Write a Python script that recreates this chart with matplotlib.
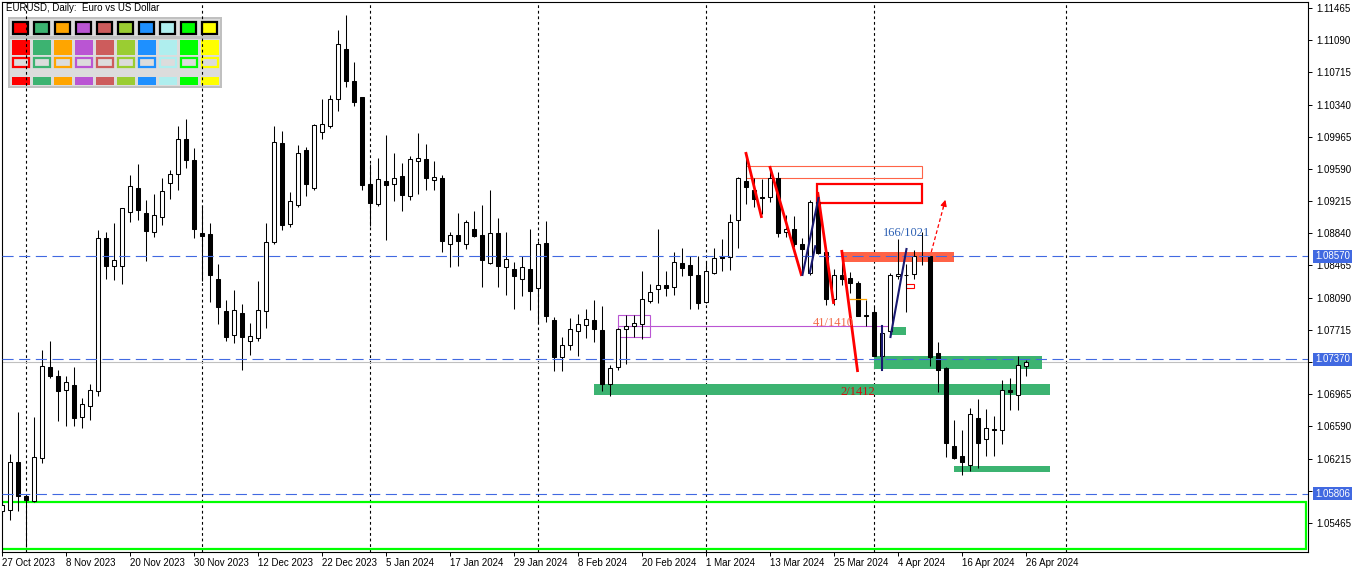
import numpy as np
import matplotlib.pyplot as plt
from matplotlib.patches import Rectangle

plt.rcParams['font.family'] = ['Liberation Sans', 'DejaVu Sans']

# EURUSD daily candles, 27 Oct 2023 .. 26 Apr 2024 (bar index 0..128)
opens = [1.0560, 1.0562, 1.0617, 1.0578, 1.0572, 1.0622, 1.0728, 1.0718, 1.0701, 1.0707,
         1.0670, 1.0683, 1.0700, 1.0879, 1.0846, 1.0846, 1.0909, 1.0937, 1.0908, 1.0886,
         1.0903, 1.0943, 1.0953, 1.0994, 1.0969, 1.0884, 1.0883, 1.0831, 1.0793, 1.0765,
         1.0791, 1.0759, 1.0762, 1.0793, 1.0874, 1.0989, 1.0895, 1.0917, 1.0981, 1.0937,
         1.1002, 1.1009, 1.1040, 1.1099, 1.1062, 1.1043, 1.0941, 1.0918, 1.0945, 1.0941,
         1.0951, 1.0927, 1.0968, 1.0971, 1.0946, 1.0948, 1.0871, 1.0882, 1.0871, 1.0889,
         1.0882, 1.0849, 1.0884, 1.0845, 1.0843, 1.0831, 1.0842, 1.0820, 1.0873, 1.0783,
         1.0740, 1.0754, 1.0770, 1.0777, 1.0783, 1.0771, 1.0708, 1.0728, 1.0772, 1.0776,
         1.0778, 1.0805, 1.0819, 1.0824, 1.0821, 1.0849, 1.0847, 1.0836, 1.0804, 1.0838,
         1.0857, 1.0856, 1.0899, 1.0945, 1.0935, 1.0926, 1.0926, 1.0948, 1.0885, 1.0889,
         1.0872, 1.0838, 1.0920, 1.0862, 1.0808, 1.0836, 1.0832, 1.0826, 1.0789, 1.0792,
         1.0741, 1.0770, 1.0834, 1.0836, 1.0837, 1.0857, 1.0857, 1.0744, 1.0727, 1.0636,
         1.0625, 1.0614, 1.0669, 1.0644, 1.0656, 1.0655, 1.0702, 1.0696, 1.0729]
highs = [1.0572, 1.0627, 1.0676, 1.0580, 1.0670, 1.0748, 1.0758, 1.0725, 1.0718, 1.0728,
         1.0692, 1.0708, 1.0888, 1.0885, 1.0896, 1.0914, 1.0952, 1.0965, 1.0923, 1.0930,
         1.0949, 1.0958, 1.1009, 1.1017, 1.0983, 1.0916, 1.0896, 1.0848, 1.0806, 1.0818,
         1.0802, 1.0780, 1.0829, 1.0896, 1.1009, 1.1003, 1.0932, 1.0987, 1.0984, 1.1011,
         1.1040, 1.1045, 1.1121, 1.1138, 1.1084, 1.1043, 1.0965, 1.0972, 1.0999, 1.0978,
         1.0966, 1.0974, 1.1001, 1.0988, 1.0968, 1.0952, 1.0885, 1.0908, 1.0899, 1.0910,
         1.0917, 1.0934, 1.0902, 1.0886, 1.0851, 1.0858, 1.0889, 1.0875, 1.0898, 1.0787,
         1.0763, 1.0785, 1.0790, 1.0796, 1.0806, 1.0799, 1.0730, 1.0774, 1.0789, 1.0789,
         1.0840, 1.0825, 1.0889, 1.0840, 1.0862, 1.0867, 1.0857, 1.0857, 1.0852, 1.0867,
         1.0877, 1.0906, 1.0950, 1.0975, 1.0948, 1.0947, 1.0960, 1.0955, 1.0905, 1.0904,
         1.0879, 1.0923, 1.0926, 1.0862, 1.0843, 1.0851, 1.0839, 1.0828, 1.0806, 1.0798,
         1.0770, 1.0838, 1.0877, 1.0848, 1.0864, 1.0885, 1.0858, 1.0757, 1.0728, 1.0666,
         1.0655, 1.0680, 1.0691, 1.0679, 1.0671, 1.0713, 1.0715, 1.0741, 1.0736]
lows = [1.0555, 1.0550, 1.0560, 1.0518, 1.0571, 1.0616, 1.0716, 1.0665, 1.0660, 1.0660,
        1.0657, 1.0667, 1.0694, 1.0831, 1.0830, 1.0825, 1.0897, 1.0899, 1.0852, 1.0880,
        1.0894, 1.0924, 1.0934, 1.0960, 1.0879, 1.0829, 1.0804, 1.0778, 1.0759, 1.0756,
        1.0725, 1.0742, 1.0759, 1.0774, 1.0872, 1.0888, 1.0891, 1.0915, 1.0928, 1.0934,
        1.0994, 1.1007, 1.1027, 1.1054, 1.1032, 1.0934, 1.0892, 1.0916, 1.0876, 1.0922,
        1.0910, 1.0923, 1.0930, 1.0935, 1.0934, 1.0862, 1.0845, 1.0846, 1.0866, 1.0880,
        1.0822, 1.0848, 1.0822, 1.0812, 1.0796, 1.0811, 1.0795, 1.0780, 1.0781, 1.0724,
        1.0723, 1.0748, 1.0741, 1.0762, 1.0757, 1.0700, 1.0695, 1.0725, 1.0732, 1.0763,
        1.0761, 1.0803, 1.0803, 1.0811, 1.0812, 1.0834, 1.0796, 1.0796, 1.0803, 1.0837,
        1.0840, 1.0841, 1.0867, 1.0918, 1.0915, 1.0906, 1.0920, 1.0880, 1.0880, 1.0868,
        1.0837, 1.0836, 1.0860, 1.0801, 1.0801, 1.0824, 1.0814, 1.0788, 1.0776, 1.0741,
        1.0726, 1.0765, 1.0831, 1.0792, 1.0831, 1.0847, 1.0729, 1.0699, 1.0623, 1.0621,
        1.0602, 1.0607, 1.0611, 1.0624, 1.0624, 1.0639, 1.0678, 1.0678, 1.0718]
closes = [1.0567, 1.0617, 1.0578, 1.0573, 1.0623, 1.0729, 1.0718, 1.0700, 1.0711, 1.0669,
          1.0685, 1.0701, 1.0879, 1.0846, 1.0853, 1.0913, 1.0939, 1.0911, 1.0887, 1.0905,
          1.0933, 1.0953, 1.0994, 1.0969, 1.0889, 1.0881, 1.0836, 1.0798, 1.0763, 1.0795,
          1.0763, 1.0764, 1.0795, 1.0874, 1.0990, 1.0894, 1.0922, 1.0978, 1.0941, 1.1010,
          1.1011, 1.1040, 1.1105, 1.1061, 1.1037, 1.0940, 1.0919, 1.0947, 1.0940, 1.0949,
          1.0929, 1.0971, 1.0972, 1.0948, 1.0950, 1.0875, 1.0882, 1.0875, 1.0897, 1.0881,
          1.0853, 1.0884, 1.0846, 1.0854, 1.0834, 1.0845, 1.0817, 1.0871, 1.0788, 1.0740,
          1.0754, 1.0773, 1.0778, 1.0784, 1.0772, 1.0708, 1.0727, 1.0773, 1.0776, 1.0779,
          1.0807, 1.0816, 1.0824, 1.0820, 1.0850, 1.0844, 1.0836, 1.0803, 1.0840, 1.0855,
          1.0855, 1.0897, 1.0948, 1.0938, 1.0924, 1.0925, 1.0948, 1.0884, 1.0889, 1.0872,
          1.0866, 1.0920, 1.0861, 1.0808, 1.0836, 1.0831, 1.0826, 1.0788, 1.0788, 1.0741,
          1.0768, 1.0836, 1.0837, 1.0836, 1.0858, 1.0857, 1.0740, 1.0725, 1.0640, 1.0622,
          1.0618, 1.0673, 1.0640, 1.0657, 1.0655, 1.0702, 1.0699, 1.0730, 1.0734]

date_labels = ['27 Oct 2023', '8 Nov 2023', '20 Nov 2023', '30 Nov 2023', '12 Dec 2023',
               '22 Dec 2023', '5 Jan 2024', '17 Jan 2024', '29 Jan 2024', '8 Feb 2024',
               '20 Feb 2024', '1 Mar 2024', '13 Mar 2024', '25 Mar 2024', '4 Apr 2024',
               '16 Apr 2024', '26 Apr 2024']
month_starts = [3, 25, 46, 67, 88, 109, 133]

price_ticks = [1.05465, 1.05840, 1.06215, 1.06590, 1.06965, 1.07340, 1.07715, 1.08090,
               1.08465, 1.08840, 1.09215, 1.09590, 1.09965, 1.10340, 1.10715, 1.11090, 1.11465]
hidden_ticks = [1.05840, 1.07340]   # covered by the level labels
hlines = [1.08570, 1.07370, 1.05806]
bid = 1.0734

# drawn objects
zone_x0 = [73.9, 108.9, 111.2, 118.9]
zone_x1 = [130.9, 129.9, 112.9, 130.9]
zone_lo = [1.06956, 1.07259, 1.07655, 1.06059]
zone_hi = [1.07085, 1.07411, 1.07749, 1.06129]

red_seg_x = [(92.9, 94.9), (95.9, 99.9), (101.9, 103.9), (104.9, 106.9)]
red_seg_y = [(1.09787, 1.09019), (1.09624, 1.08343), (1.09321, 1.08017), (1.08646, 1.07224)]
navy_seg_x = [(100.0, 102.0), (100.9, 101.6), (110.0, 110.0), (111.0, 113.0)]
navy_seg_y = [(1.08355, 1.09252), (1.08380, 1.08690), (1.07760, 1.07250), (1.07632, 1.08657)]

palette = ['#FF0000', '#3CB371', '#FFA500', '#BA55D3', '#CD5C5C',
           '#9ACD32', '#1E90FF', '#AFEEEE', '#00FF00', '#FFFF00']

W, H = 1362, 576
fig = plt.figure(figsize=(W / 100, H / 100), dpi=100)

# colour panel (top-left), drawn under the chart axes
pal = fig.add_axes([8 / W, 1 - 88 / H, 214 / W, 71 / H], zorder=0)
pal.set_xlim(8, 222)
pal.set_ylim(88, 17)
pal.axis('off')
pal.add_patch(Rectangle((8, 17), 214, 71, fc='#C0C0C0', ec='none'))
pal.add_patch(Rectangle((10, 19), 210, 17, fc='#DCDCDC', ec='none'))
pal.add_patch(Rectangle((10, 39), 210, 47, fc='#DCDCDC', ec='none'))
for k, c in enumerate(palette):
    x = 11.7 + 21 * k
    pal.add_patch(Rectangle((x + 1, 22), 15, 12, fc=c, ec='black', lw=1.6))
    pal.add_patch(Rectangle((x, 39.5), 18, 15.5, fc=c, ec='none'))
    pal.add_patch(Rectangle((x + 1, 58), 16, 9, fc='#DCDCDC', ec=c, lw=1.6))
    pal.add_patch(Rectangle((x, 77), 18, 8, fc=c, ec='none'))

ax = fig.add_axes([2 / W, 24 / H, 1306 / W, 550 / H], zorder=1)
ax.patch.set_alpha(0)
ax.set_xlim(-0.06, 163.19)
ax.set_ylim(1.05127, 1.11535)

# month grid
for m in month_starts:
    ax.axvline(m, color='black', lw=0.8, ls=(0, (2.5, 2.5)), zorder=1)

# zones
for x0, x1, lo, hi in zip(zone_x0, zone_x1, zone_lo, zone_hi):
    ax.add_patch(Rectangle((x0, lo), x1 - x0, hi - lo, fc='#3CB371', ec='none', zorder=2))
ax.add_patch(Rectangle((105.06, 1.08506), 13.84, 0.00116, fc='#FF6347', ec='none', zorder=2))
ax.add_patch(Rectangle((-5, 1.05162), 167.9, 0.00548, fill=False, ec='#00FF00', lw=1.6, zorder=2))
ax.add_patch(Rectangle((92.9, 1.09485), 22.0, 0.00139, fill=False, ec='#FF6347', lw=0.8, zorder=2))
ax.add_patch(Rectangle((101.8, 1.09193), 13.1, 0.00222, fill=False, ec='red', lw=1.6, zorder=2))
ax.add_patch(Rectangle((113.0, 1.08203), 1.0, 0.00047, fill=False, ec='red', lw=0.8, zorder=2))
ax.add_patch(Rectangle((77.0, 1.07632), 4.0, 0.00256, fill=False, ec='#BA55D3', lw=0.8, zorder=2))
ax.plot([77.0, 110.9], [1.07760, 1.07760], color='#BA55D3', lw=0.8, zorder=2)
ax.plot([105.9, 107.9], [1.08075, 1.08075], color='orange', lw=0.9, zorder=4)

# bid line
ax.axhline(bid, color='#C0C0C0', lw=0.8, zorder=1.5)

# candles
idx = np.arange(len(opens))
o = np.array(opens)
c = np.array(closes)
up = c >= o
ax.vlines(idx, lows, highs, color='black', lw=0.75, zorder=3)
ax.bar(idx, np.abs(c - o), bottom=np.minimum(o, c), width=0.5,
       color=np.where(up, 'white', 'black'), edgecolor='black', lw=0.75, zorder=3)

for p in hlines:
    ax.axhline(p, color='#4169E1', lw=0.8, ls=(0, (10, 5)), zorder=4)

for xs, ys in zip(red_seg_x, red_seg_y):
    ax.plot(xs, ys, color='red', lw=2.0, zorder=5, solid_capstyle='butt')
for xs, ys in zip(navy_seg_x, navy_seg_y):
    ax.plot(xs, ys, color='#191970', lw=1.5, zorder=5)

ax.plot([116.1, 117.6], [1.08622, 1.09140], color='red', lw=0.9, ls=(0, (3, 2)), zorder=5)
ax.annotate('', xy=(117.95, 1.09262), xytext=(117.5, 1.09105),
            arrowprops=dict(arrowstyle='-|>', color='red', lw=0.9, mutation_scale=9), zorder=5)

ax.text(110.06, 1.08844, '166/1021', color='#2B5FB3', fontsize=9,
        family='Liberation Serif', va='center', ha='left', zorder=6)
ax.text(101.3, 1.07790, '41/1410', color='#F26B4A', fontsize=9,
        family='Liberation Serif', va='center', ha='left', zorder=6)
ax.text(104.7, 1.06991, '2/1412', color='#D01010', fontsize=9,
        family='Liberation Serif', va='center', ha='left', zorder=6)

# axes styling
for s in ax.spines.values():
    s.set_linewidth(0.8)
    s.set_color('black')
ax.yaxis.tick_right()
ax.set_yticks(price_ticks)
ax.set_yticklabels(['' if t in hidden_ticks else f'{t:.5f}' for t in price_ticks])
ax.tick_params(axis='y', length=3, width=0.7, pad=3, labelsize=7, colors='black')
ax.set_xticks(np.arange(0, 8 * len(date_labels), 8))
ax.set_xticklabels(date_labels)
for lab in ax.get_xticklabels():
    lab.set_ha('left')
ax.tick_params(axis='x', length=3, width=0.7, pad=1.5, labelsize=7, colors='black')

for p in hlines:
    ax.annotate(f'{p:.5f}', xy=(1, p), xycoords=('axes fraction', 'data'),
                xytext=(5.2, 0), textcoords='offset points', va='center', ha='left',
                color='white', fontsize=7, annotation_clip=False, zorder=7,
                bbox=dict(boxstyle='square,pad=0.18', fc='#4169E1', ec='none'))

fig.text(6 / W, 1 - 8 / H, 'EURUSD, Daily:  Euro vs US Dollar', fontsize=7, va='center', ha='left')

fig.savefig('out.png', dpi=100, facecolor='white')
